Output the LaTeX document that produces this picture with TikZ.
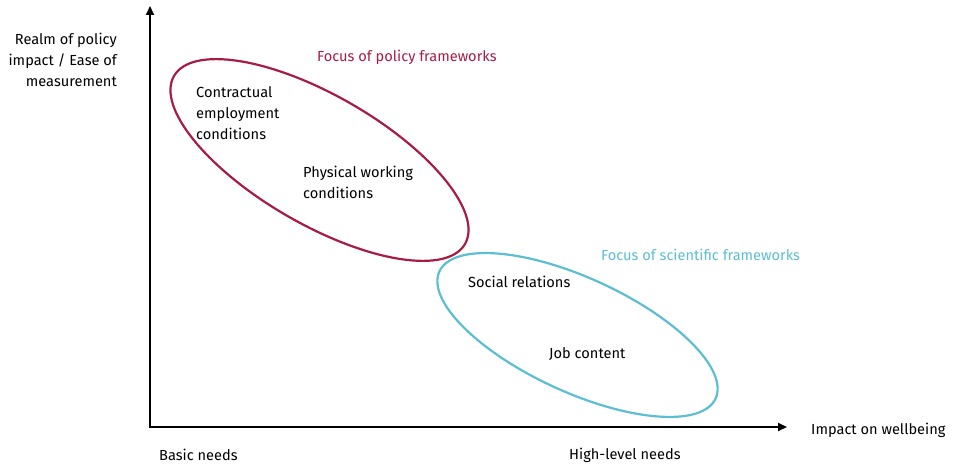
\documentclass[tikz,border=0pt]{standalone}
\usepackage{fontspec}
\setmainfont{Fira Sans}
\usetikzlibrary{arrows.meta,shapes.geometric}
\definecolor{policyred}{RGB}{166,28,68}
\definecolor{scicyan}{RGB}{92,190,210}
\begin{document}
\begin{tikzpicture}[x=1pt,y=-1pt,
  lbl/.style={inner sep=0pt,font=\fontsize{14.6}{20.8}\selectfont,text=black},
  axis/.style={line width=2pt,-{Triangle[length=9pt,width=8pt]}},
  ell/.style={line width=2.2pt,draw}]
\useasboundingbox (0,0) rectangle (954,465);
\coordinate (O) at (150,427);
\coordinate (ytip) at (150,6);
\coordinate (xtip) at (787,427);
\draw[axis] (O) -- (ytip);
\draw[axis] ([xshift=-1pt]O) -- (xtip);
\node[ell,draw=policyred,ellipse,minimum width=336pt,minimum height=129pt,rotate=-30] (red) at (319.5,160) {};
\node[ell,draw=scicyan,ellipse,minimum width=304pt,minimum height=114pt,rotate=-24.7] (cyan) at (577.5,335) {};
\node[lbl,anchor=east,align=right] (yl) at (117,60) {Realm of policy\\impact / Ease of\\measurement};
\node[lbl,anchor=west,text=policyred] (fp) at (317,57) {Focus of policy frameworks};
\node[lbl,anchor=west,align=left] (ce) at (196,113) {Contractual\\employment\\conditions};
\node[lbl,anchor=west,align=left] (pw) at (303,182) {Physical working\\conditions};
\node[lbl,anchor=west,text=scicyan] (fs) at (601,255) {Focus of scientific frameworks};
\node[lbl,anchor=west] (sr) at (468,282) {Social relations};
\node[lbl,anchor=west] (jc) at (549,354) {Job content};
\node[lbl,anchor=west] (iw) at (811,430) {Impact on wellbeing};
\node[lbl,anchor=west] (bn) at (159,455) {Basic needs};
\node[lbl,anchor=west] (hn) at (569,455) {High-level needs};
\end{tikzpicture}
\end{document}
